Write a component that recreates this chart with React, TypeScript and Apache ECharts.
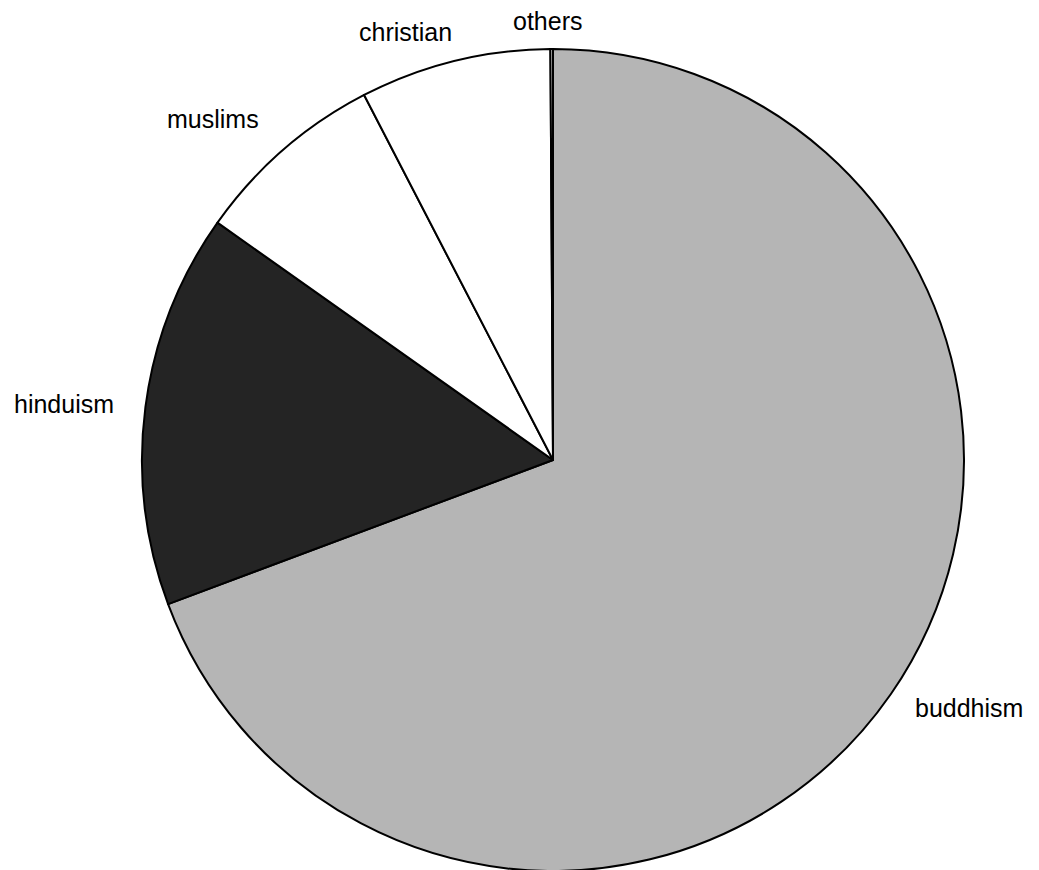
import React, { useEffect, useRef } from "react";
import * as echarts from "echarts";

const categories = ["buddhism", "hinduism", "muslims", "christian", "others"];
const shares = [69.3, 15.5, 7.6, 7.5, 0.1];
const sliceColors = ["#b5b5b5", "#242424", "#ffffff", "#ffffff", "#ffffff"];
// label anchor points (left edge, vertical middle) in px
const labelAnchors: [number, number][] = [
  [915, 708],
  [14, 404],
  [167, 119],
  [359, 32],
  [513, 21],
];

export default function App() {
  const ref = useRef<HTMLDivElement>(null);
  useEffect(() => {
    if (!ref.current) return;
    const chart = echarts.init(ref.current, undefined, { renderer: "svg" });
    chart.setOption({
      animation: false,
      backgroundColor: "#ffffff",
      series: [
        {
          type: "pie",
          center: [553, 460],
          radius: 411,
          startAngle: 90,
          clockwise: true,
          avoidLabelOverlap: false,
          data: categories.map((name, i) => ({
            name,
            value: shares[i],
            itemStyle: { color: sliceColors[i] },
          })),
          itemStyle: { borderColor: "#000000", borderWidth: 2 },
          label: {
            show: true,
            position: "outside",
            formatter: "{b}",
            fontFamily: "Liberation Sans, Arial, sans-serif",
            fontSize: 25,
            color: "#000000",
          },
          labelLine: { show: false },
          labelLayout: (params: any) => {
            const a = labelAnchors[params.dataIndex];
            return { x: a[0], y: a[1], align: "left", verticalAlign: "middle" };
          },
          emphasis: { disabled: true },
        },
      ],
    });
    return () => chart.dispose();
  }, []);
  return (
    <div
      ref={ref}
      style={{ position: "fixed", left: 0, top: 0, width: 1039, height: 870 }}
    />
  );
}
